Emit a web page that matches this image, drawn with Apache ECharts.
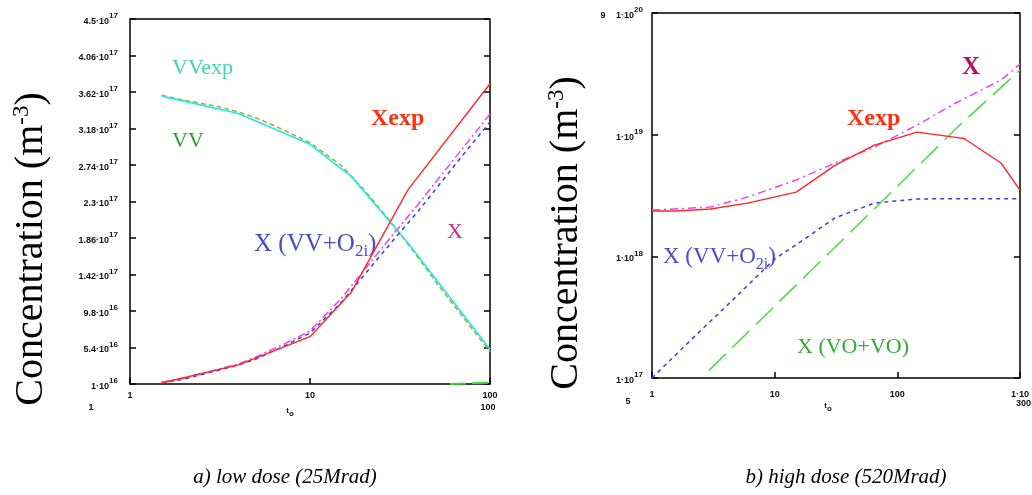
<!DOCTYPE html>
<html>
<head>
<meta charset="utf-8">
<script src="https://cdn.jsdelivr.net/npm/echarts/dist/echarts.min.js"></script>
<style>
html,body{margin:0;padding:0;background:#fff;}
#chart{width:1032px;height:495px;}
</style>
</head>
<body>
<div id="chart"></div>
<script>
// ---------- DATA: (a) low dose ----------
const leftTickY = [1e16, 5.4e16, 9.8e16, 1.42e17, 1.86e17, 2.3e17, 2.74e17, 3.18e17, 3.62e17, 4.06e17, 4.5e17];
const leftTExp = [1.5, 4, 10, 17, 35, 100];
const leftVVexp = [3.57e17, 3.36e17, 2.99e17, 2.60e17, 1.80e17, 5.2e16];
const leftXexp = [1.12e16, 3.3e16, 6.7e16, 1.21e17, 2.44e17, 3.72e17];
const leftTModel = [1.5, 2, 3, 4, 5, 7, 10, 15, 20, 30, 40, 50, 70, 100];
const leftVV = [3.58e17, 3.52e17, 3.45e17, 3.38e17, 3.31e17, 3.17e17, 3.01e17, 2.73e17, 2.44e17, 1.98e17, 1.62e17, 1.33e17, 9.2e16, 4.9e16];
const leftX = [1.24e16, 1.72e16, 2.69e16, 3.41e16, 4.25e16, 5.70e16, 7.39e16, 1.137e17, 1.474e17, 1.944e17, 2.270e17, 2.535e17, 2.933e17, 3.355e17];
const leftXVVO2i = [1.12e16, 1.60e16, 2.57e16, 3.29e16, 4.01e16, 5.46e16, 7.15e16, 1.089e17, 1.414e17, 1.872e17, 2.185e17, 2.451e17, 2.849e17, 3.258e17];
const leftTVOVO = [60, 100];
const leftXVOVO = [1.0e16, 1.15e16];

// ---------- DATA: (b) high dose ----------
const rightTExp = [1, 1.6, 3, 6, 15, 31, 65, 145, 300, 350, 700, 1000];
const rightXexp = [2.36e18, 2.36e18, 2.45e18, 2.74e18, 3.37e18, 5.6e18, 8.2e18, 1.05e19, 9.5e18, 9.3e18, 5.85e18, 3.5e18];
const rightTX = [1, 3, 6, 15, 31, 65, 145, 300, 700, 1000];
const rightX = [2.4e18, 2.54e18, 3.07e18, 4.24e18, 5.84e18, 7.9e18, 1.2e19, 1.82e19, 2.81e19, 3.8e19];
const rightTVVO2i = [1, 2, 5, 10, 17, 31, 65, 145, 300, 1000];
const rightXVVO2i = [1.0e17, 1.98e17, 4.8e17, 9.5e17, 1.36e18, 2.07e18, 2.74e18, 2.96e18, 2.98e18, 2.98e18];
const rightTVOVO = [2.9, 10, 30, 100, 300, 1000];
const rightXVOVO = [1.15e17, 3.9e17, 1.15e18, 3.75e18, 1.12e19, 3.4e19];

const pairs = (xs, ys) => xs.map((x, i) => [x, ys[i]]);

const SERIF = '"Liberation Serif","DejaVu Serif",serif';
const SANS = '"Liberation Sans","DejaVu Sans",sans-serif';
const tickStyle = {show: true, inside: true, length: 6, lineStyle: {color: '#000', width: 1.5}};
const supRich = {
  m: {fontSize: 9, fontWeight: 'bold', fontFamily: SANS, color: '#111', verticalAlign: 'bottom'},
  e: {fontSize: 8, fontWeight: 'bold', fontFamily: SANS, color: '#111', verticalAlign: 'bottom', padding: [0, 0, 6, 0]}
};
const fmtLin = v => {
  const e = Math.floor(Math.log10(v) + 1e-9);
  const m = +(v / Math.pow(10, e)).toPrecision(3);
  return '{m|' + m + '·10}{e|' + e + '}';
};
const fmtLog = v => '{m|1·10}{e|' + Math.round(Math.log10(v)) + '}';

const line = (name, xi, data, color, type, width) => ({
  name, type: 'line', xAxisIndex: xi, yAxisIndex: xi === 0 ? 0 : 2,
  data, symbol: 'none', smooth: false, silent: true,
  lineStyle: {color, type, width: width || 1.5}
});

function txt(x, y, text, size, color, opts) {
  opts = opts || {};
  return {
    type: 'text', x, y,
    style: {
      text, fill: color, font: (opts.italic ? 'italic ' : '') + (opts.bold ? 'bold ' : '') + size + 'px ' + (opts.family || SERIF),
      align: opts.align || 'center', verticalAlign: 'middle'
    }
  };
}
function subText(x, y, main, sub, tail, size, color) {
  return {
    type: 'text', x, y,
    style: {
      text: '{a|' + main + '}{s|' + sub + '}{a|' + tail + '}',
      fill: color, align: 'left', verticalAlign: 'middle',
      rich: {
        a: {fontSize: size, fontFamily: SERIF, fill: color, color: color, verticalAlign: 'bottom'},
        s: {fontSize: Math.round(size * 0.68), fontFamily: SERIF, fill: color, color: color, verticalAlign: 'bottom', padding: [0, 0, -4, 0]}
      }
    }
  };
}
function concTitle(x, y) {
  return {
    type: 'text', x, y, rotation: Math.PI / 2,
    style: {
      text: '{a|Concentration (m}{s|-3}{a|)}',
      fill: '#000', align: 'center', verticalAlign: 'middle',
      rich: {
        a: {fontSize: 40, fontFamily: SERIF, fill: '#000', verticalAlign: 'bottom'},
        s: {fontSize: 23, fontFamily: SERIF, fill: '#000', verticalAlign: 'bottom', padding: [0, 0, 18, 0]}
      }
    }
  };
}
function toLabel(x, y) {
  return {type: 'text', x, y, style: {text: '{t|t}{o|o}', fill: '#111', align: 'center', verticalAlign: 'middle',
    rich: {t: {fontSize: 8, fontWeight: 'bold', fontFamily: SANS, fill: '#111', verticalAlign: 'bottom', padding: [0, 0, 3, 0]},
           o: {fontSize: 8, fontWeight: 'bold', fontFamily: SANS, fill: '#111', verticalAlign: 'bottom'}}}};
}

const chart = echarts.init(document.getElementById('chart'), null, {renderer: 'canvas'});
chart.setOption({
  animation: false,
  backgroundColor: '#fff',
  grid: [
    {left: 130, top: 19, width: 360, height: 365, show: true, borderColor: '#000', borderWidth: 1.5},
    {left: 652, top: 13, width: 375, height: 365, show: true, borderColor: '#000', borderWidth: 1.5}
  ],
  xAxis: [
    {type: 'log', logBase: 10, min: 1, max: 100, gridIndex: 0,
     axisLine: {show: false}, axisTick: tickStyle, splitLine: {show: false}, minorTick: {show: false},
     axisLabel: {fontSize: 9, fontWeight: 'bold', fontFamily: SANS, color: '#111', margin: 7,
                 formatter: v => String(Math.round(v))}},
    {type: 'log', logBase: 10, min: 1, max: 1000, gridIndex: 1,
     axisLine: {show: false}, axisTick: tickStyle, splitLine: {show: false}, minorTick: {show: false},
     axisLabel: {fontSize: 9, fontWeight: 'bold', fontFamily: SANS, color: '#111', margin: 12,
                 formatter: v => { const r = Math.round(v); return r === 1000 ? '1·10' : String(r); }}}
  ],
  yAxis: [
    {type: 'value', min: 1e16, max: 4.5e17, gridIndex: 0,
     axisLine: {show: false}, splitLine: {show: false},
     axisTick: Object.assign({customValues: leftTickY}, tickStyle),
     axisLabel: {customValues: leftTickY, formatter: fmtLin, rich: supRich, margin: 12}},
    {type: 'value', min: 1e16, max: 4.5e17, gridIndex: 0, position: 'right',
     axisLine: {show: false}, splitLine: {show: false},
     axisTick: Object.assign({customValues: leftTickY}, tickStyle),
     axisLabel: {show: false}},
    {type: 'log', logBase: 10, min: 1e17, max: 1e20, gridIndex: 1,
     axisLine: {show: false}, splitLine: {show: false}, minorTick: {show: false},
     axisTick: tickStyle,
     axisLabel: {formatter: fmtLog, rich: supRich, margin: 9}},
    {type: 'log', logBase: 10, min: 1e17, max: 1e20, gridIndex: 1, position: 'right',
     axisLine: {show: false}, splitLine: {show: false}, minorTick: {show: false},
     axisTick: tickStyle, axisLabel: {show: false}}
  ],
  series: [
    line('VV', 0, pairs(leftTModel, leftVV), '#9fb23a', [5, 3], 1.6),
    line('VVexp', 0, pairs(leftTExp, leftVVexp), '#22e8e8', 'solid', 1.6),
    line('X(VV+O2i)', 0, pairs(leftTModel, leftXVVO2i), '#3a3ae8', [4, 4], 1.5),
    line('X', 0, pairs(leftTModel, leftX), '#ee44ee', [8, 3, 2, 3], 1.5),
    line('Xexp', 0, pairs(leftTExp, leftXexp), '#ff2626', 'solid', 1.4),
    line('X(VO+VO)', 0, pairs(leftTVOVO, leftXVOVO), '#33dd33', [16, 6], 2),

    line('X(VV+O2i)b', 1, pairs(rightTVVO2i, rightXVVO2i), '#3a3ae8', [4, 4], 1.5),
    line('X(VO+VO)b', 1, pairs(rightTVOVO, rightXVOVO), '#44dd44', [24, 9], 1.5),
    line('Xb', 1, pairs(rightTX, rightX), '#ee44ee', [8, 4, 2, 4], 1.5),
    line('Xexpb', 1, pairs(rightTExp, rightXexp), '#ff2626', 'solid', 1.4)
  ],
  graphic: [
    concTitle(31, 249),
    concTitle(566, 233),
    // left chart labels
    txt(172, 68, 'VVexp', 22, '#3fd4b4', {align: 'left'}),
    txt(172, 141, 'VV', 22, '#2ea02e', {align: 'left'}),
    txt(371, 119, 'Xexp', 24, '#ff3010', {align: 'left', bold: true}),
    txt(455, 232, 'X', 22, '#d02a88'),
    subText(254, 244, 'X (VV+O', '2i', ')', 25, '#4a4ad0'),
    // right chart labels
    txt(847, 119, 'Xexp', 24, '#ff3010', {align: 'left', bold: true}),
    txt(971, 68, 'X', 25, '#b4106c', {bold: true}),
    subText(663, 257, 'X (VV+O', '2i', ')', 23, '#4a4ad0'),
    txt(797, 347, 'X (VO+VO)', 22, '#33aa33', {align: 'left'}),
    // small axis annotations
    txt(91, 408, '1', 9, '#111', {bold: true, family: SANS}),
    txt(488, 408, '100', 9, '#111', {bold: true, family: SANS}),
    toLabel(290, 412),
    txt(603, 16, '9', 9, '#111', {bold: true, family: SANS}),
    txt(628, 402, '5', 9, '#111', {bold: true, family: SANS}),
    txt(1031, 404, '300', 9, '#111', {bold: true, family: SANS, align: 'right'}),
    toLabel(828, 407),
    // captions
    txt(285, 477, 'a) low dose (25Mrad)', 21, '#000', {italic: true}),
    txt(846, 477, 'b) high dose (520Mrad)', 21, '#000', {italic: true})
  ]
});
</script>
</body>
</html>
